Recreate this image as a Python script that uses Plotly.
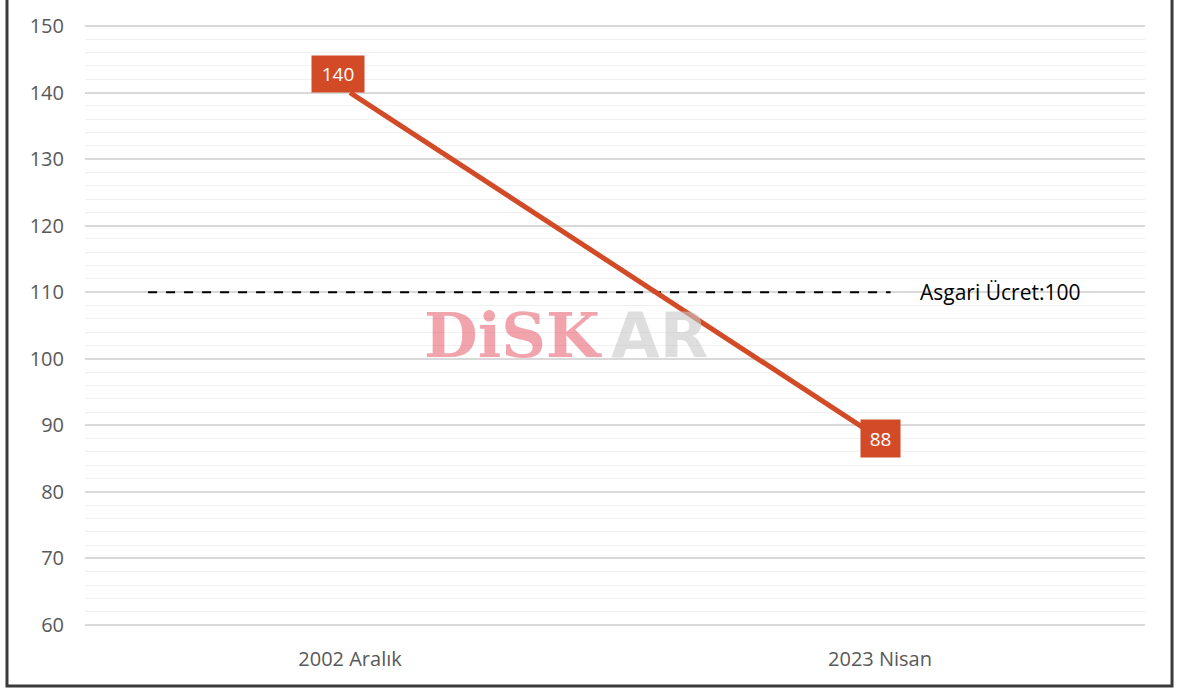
import plotly.graph_objects as go

categories = ["2002 Aralık", "2023 Nisan"]
values = [140, 88]
value_labels = ["140", "88"]
ref_value = 110
ref_label = "Asgari Ücret:100"
yticks = [60, 70, 80, 90, 100, 110, 120, 130, 140, 150]

LINE = "#d24a26"
TICK = "#595959"
FONT = "Open Sans"

fig = go.Figure()
xs = list(range(len(categories)))

# reference dashed line
fig.add_trace(go.Scatter(x=[-0.381, 1.02], y=[ref_value, ref_value], mode="lines",
                         line=dict(color="black", width=2, dash="dash"),
                         hoverinfo="skip", showlegend=False))

fig.add_trace(go.Scatter(x=xs, y=values, mode="lines",
                         line=dict(color=LINE, width=5), showlegend=False))

# data labels
fig.add_annotation(x=xs[0], y=values[0], text=value_labels[0], showarrow=False,
                   xanchor="center", yanchor="bottom", xshift=-12, yshift=0,
                   font=dict(family=FONT, size=19, color="white"),
                   bgcolor=LINE, width=46, height=30, borderpad=3)
fig.add_annotation(x=xs[1], y=values[1], text=value_labels[1], showarrow=False,
                   xanchor="center", yanchor="middle",
                   font=dict(family=FONT, size=19, color="white"),
                   bgcolor=LINE, width=33, height=31, borderpad=3)

fig.add_annotation(x=1.0717, y=ref_value, text=ref_label, showarrow=False,
                   xanchor="left", yanchor="middle",
                   font=dict(family=FONT, size=21, color="black"))

# watermark
fig.add_annotation(x=0.4896, y=0.484, xref="paper", yref="paper", text="DiSK",
                   showarrow=False, xanchor="right", yanchor="middle",
                   font=dict(family="DejaVu Serif", size=62, color="rgba(232,90,104,0.55)",
                             weight="bold"))
fig.add_annotation(x=0.4945, y=0.484, xref="paper", yref="paper", text="AR",
                   showarrow=False, xanchor="left", yanchor="middle",
                   font=dict(family="DejaVu Sans", size=63, color="rgba(200,200,200,0.6)",
                             weight="bold"))

# outer border
fig.add_shape(type="rect", xref="paper", yref="paper", x0=-0.0736, x1=1.0255,
              y0=-0.0978, y1=1.2, line=dict(color="#3a3a3a", width=3),
              fillcolor="rgba(0,0,0,0)", layer="above")

fig.update_layout(
    width=1177, height=691,
    margin=dict(l=85, r=32, t=24, b=64, autoexpand=False),
    paper_bgcolor="white", plot_bgcolor="white",
    xaxis=dict(range=[-0.5, 1.5], tickvals=xs, ticktext=categories, automargin=False,
               showgrid=False, zeroline=False, showline=False,
               tickfont=dict(family=FONT, size=20, color=TICK), ticks="",
               ticklabelstandoff=18),
    yaxis=dict(range=[59.7, 150.3], tickvals=yticks, showgrid=True, gridcolor="#d9d9d9",
               gridwidth=1.5, zeroline=False, showline=False, ticks="", automargin=False,
               ticklabelstandoff=20,
               tickfont=dict(family=FONT, size=20, color=TICK),
               minor=dict(dtick=2, showgrid=True, gridcolor="#f0f0f0", gridwidth=1)),
)
fig.write_html("out.html", config={"displayModeBar": False},
               post_script="document.body.style.margin='0';document.body.style.overflow='hidden';")
